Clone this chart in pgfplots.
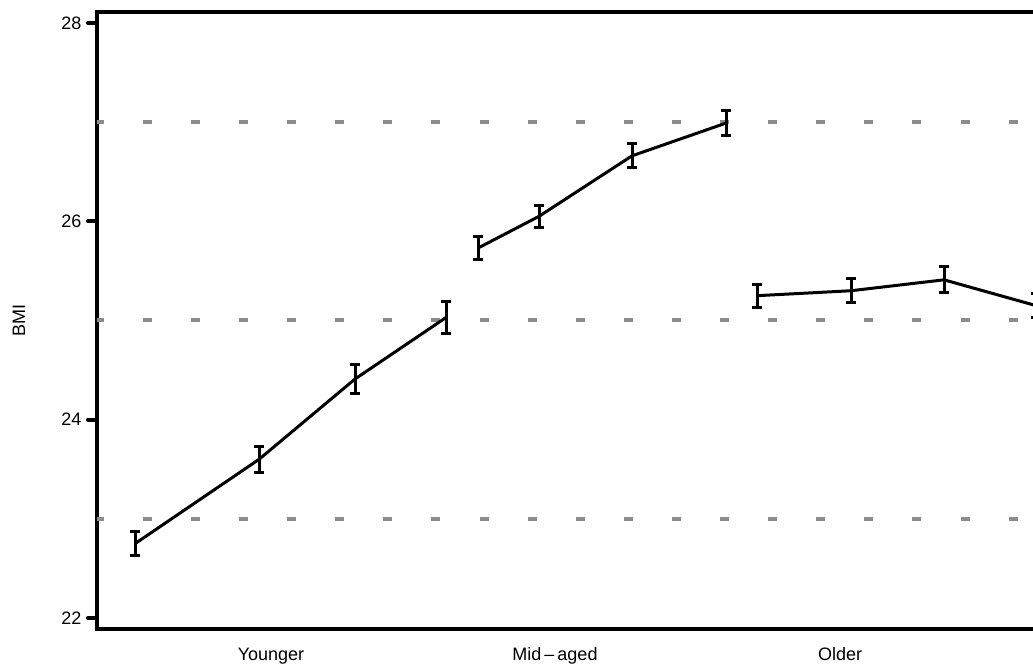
\documentclass[border=0pt]{standalone}
\usepackage{fontspec}
\setmainfont{Liberation Sans}
\usepackage{pgfplots}
\pgfplotsset{compat=1.18}
\begin{document}
\fontsize{19}{22}\selectfont
\begin{tikzpicture}[x=1pt,y=1pt]
\useasboundingbox (0,0) rectangle (1033,666);
\clip (0,0) rectangle (1033,666);
\begin{axis}[
  at={(97pt,37pt)}, anchor=south west,
  scale only axis, width=973pt, height=617pt,
  xmin=97, xmax=1070, ymin=21.89, ymax=28.11,
  axis line style={line width=4pt},
  ytick={22,24,26,28},
  tick align=outside,
  major tick length=9pt,
  ytick style={line width=4pt, line cap=round, black},
  xtick={271,555,840},
  xticklabels={Younger, Mid\thinspace–\thinspace aged, Older},
  xtick style={draw=none},
  xticklabel style={anchor=base, yshift=-23pt},
  yticklabel style={anchor=east, xshift=0pt},
  /pgf/number format/assume math mode=true,
  ylabel={BMI},
  every axis y label/.style={at={(axis description cs:0,0.5)}, rotate=90, anchor=center, yshift=78pt},
  tick label style={font=\fontsize{18}{21}\selectfont},
  label style={font=\fontsize{18}{21}\selectfont},
]
\foreach \yy in {23,25,27} {
  \edef\temp{\noexpand\addplot[color=gray!90, line width=4pt, dash pattern=on 9pt off 39.1pt, forget plot] coordinates {(94.7,\yy) (1075,\yy)};}
  \temp
}
\addplot[black, line width=3pt, mark=none,
  error bars/.cd, y dir=both, y explicit,
  error bar style={line width=3pt},
  error mark options={rotate=90, mark size=5pt, line width=3pt, black}]
  coordinates {
  (135,22.75) +- (0,0.12)
  (259,23.60) +- (0,0.13)
  (355,24.41) +- (0,0.15)
  (446,25.03) +- (0,0.16)
};
\addplot[black, line width=3pt, mark=none,
  error bars/.cd, y dir=both, y explicit,
  error bar style={line width=3pt},
  error mark options={rotate=90, mark size=5pt, line width=3pt, black}]
  coordinates {
  (478,25.73) +- (0,0.12)
  (539,26.05) +- (0,0.11)
  (632,26.66) +- (0,0.12)
  (726,26.99) +- (0,0.13)
};
\addplot[black, line width=3pt, mark=none,
  error bars/.cd, y dir=both, y explicit,
  error bar style={line width=3pt},
  error mark options={rotate=90, mark size=5pt, line width=3pt, black}]
  coordinates {
  (757,25.25) +- (0,0.115)
  (851,25.30) +- (0,0.12)
  (944,25.41) +- (0,0.13)
  (1036,25.15) +- (0,0.12)
};
\end{axis}
\end{tikzpicture}
\end{document}
